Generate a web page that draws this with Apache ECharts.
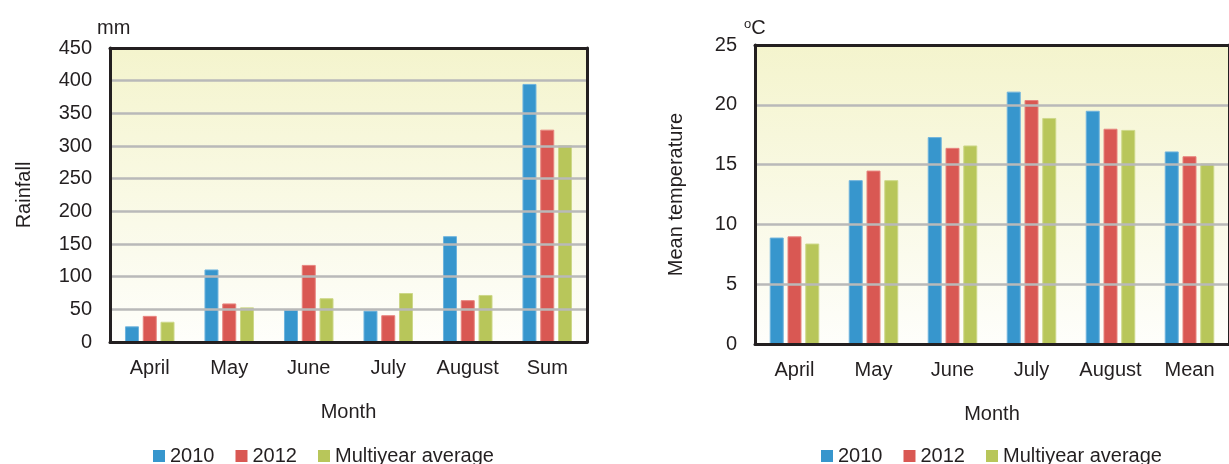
<!DOCTYPE html>
<html>
<head>
<meta charset="utf-8">
<script src="https://cdn.jsdelivr.net/npm/echarts@6/dist/echarts.min.js"></script>
<style>
  html, body { margin: 0; padding: 0; background: #ffffff; }
  #chart { width: 1229px; height: 464px; }
</style>
</head>
<body>
<div id="chart"></div>
<script>
// Categories
const rainCategories = ['April', 'May', 'June', 'July', 'August', 'Sum'];
const tempCategories = ['April', 'May', 'June', 'July', 'August', 'Mean'];
const seriesNames = ['2010', '2012', 'Multiyear average'];

// Rainfall (mm)
const rain2010 = [24, 111, 49, 48, 162, 395];
const rain2012 = [40, 59, 118, 41, 64, 325];
const rainAvg  = [31, 53, 67, 75, 72, 301];

// Mean temperature (°C)
const temp2010 = [8.9, 13.7, 17.3, 21.1, 19.5, 16.1];
const temp2012 = [9.0, 14.5, 16.4, 20.4, 18.0, 15.7];
const tempAvg  = [8.4, 13.7, 16.6, 18.9, 17.9, 15.1];

const colors = ['#3796cd', '#d95853', '#b8c65a'];
const edgeColors = ['#6fb3dd', '#e7847f', '#cdd889'];
const textColor = '#231f20';
const fontFamily = '"Liberation Sans", Arial, sans-serif';
const frameLine = { show: true, onZero: false, lineStyle: { color: textColor, width: 3 } };

const plotFill = {
  type: 'linear', x: 0, y: 0, x2: 0, y2: 1,
  colorStops: [
    { offset: 0, color: '#f4f4cd' },
    { offset: 1, color: '#fefefb' }
  ]
};

function gridOpts(left, top, width, height) {
  return {
    left: left, top: top, width: width, height: height,
    show: true,
    backgroundColor: plotFill,
    borderWidth: 0,
    containLabel: false
  };
}

function xAxisOpts(gridIndex, cats) {
  return {
    type: 'category',
    gridIndex: gridIndex,
    data: cats,
    z: 6,
    axisLine: frameLine,
    axisTick: { show: false },
    axisLabel: { interval: 0, color: textColor, fontSize: 20, fontFamily: fontFamily, margin: 16 },
    name: 'Month',
    nameLocation: 'middle',
    nameGap: 60,
    nameTextStyle: { color: textColor, fontSize: 20, fontFamily: fontFamily }
  };
}

// Frame edge along the top of a plot
function topFrame(gridIndex, cats) {
  return {
    type: 'category', gridIndex: gridIndex, data: cats, position: 'top', z: 6,
    axisLine: frameLine, axisTick: { show: false }, axisLabel: { show: false },
    splitLine: { show: false }
  };
}

function yAxisOpts(gridIndex, max, interval, name, gap) {
  return {
    type: 'value',
    gridIndex: gridIndex,
    min: 0,
    max: max,
    interval: interval,
    z: 6,
    axisLine: frameLine,
    axisTick: { show: false },
    axisLabel: { color: textColor, fontSize: 20, fontFamily: fontFamily, margin: 18 },
    splitLine: { showMinLine: false, showMaxLine: false, lineStyle: { color: '#b9b9b9', width: 2.5 } },
    name: name,
    nameLocation: 'middle',
    nameGap: gap,
    nameRotate: 90,
    nameTextStyle: { color: textColor, fontSize: 20, fontFamily: fontFamily }
  };
}

// Frame edge along the right side of a plot
function rightFrame(gridIndex, max, interval) {
  return {
    type: 'value', gridIndex: gridIndex, min: 0, max: max, interval: interval,
    position: 'right', z: 6,
    axisLine: frameLine, axisTick: { show: false }, axisLabel: { show: false },
    splitLine: { show: false }
  };
}

function barSeries(name, idx, axisIndex, data) {
  return {
    type: 'bar',
    name: name,
    xAxisIndex: axisIndex,
    yAxisIndex: axisIndex,
    data: data,
    barWidth: 14,
    barGap: '27%',
    itemStyle: { color: colors[idx], borderColor: edgeColors[idx], borderWidth: 1 },
    emphasis: { disabled: true },
    animation: false
  };
}

function legendOpts(left) {
  return {
    left: left,
    top: 446,
    padding: 0,
    itemWidth: 12,
    itemHeight: 12,
    itemGap: 21,
    icon: 'rect',
    itemStyle: { borderWidth: 0 },
    data: seriesNames,
    textStyle: { color: textColor, fontSize: 20, fontFamily: fontFamily, padding: [0, 0, 0, 0] }
  };
}

const chart = echarts.init(document.getElementById('chart'), null, { renderer: 'canvas' });

chart.setOption({
  backgroundColor: '#ffffff',
  animation: false,
  color: colors,
  title: [
    {
      text: 'mm', left: 92, top: 13,
      textStyle: { color: textColor, fontSize: 20, fontWeight: 'normal', fontFamily: fontFamily }
    },
    {
      text: '{sup|o}C', left: 739, top: 13,
      textStyle: {
        color: textColor, fontSize: 20, fontWeight: 'normal', fontFamily: fontFamily,
        rich: {
          sup: { fontSize: 13, verticalAlign: 'top', color: textColor, fontFamily: fontFamily, padding: [0, 0, 8, 0] }
        }
      }
    }
  ],
  legend: [legendOpts(153), legendOpts(821)],
  grid: [gridOpts(110, 48, 477, 294), gridOpts(755, 45, 482, 299)],
  xAxis: [
    xAxisOpts(0, rainCategories), xAxisOpts(1, tempCategories),
    topFrame(0, rainCategories), topFrame(1, tempCategories)
  ],
  yAxis: [
    yAxisOpts(0, 450, 50, 'Rainfall', 76), yAxisOpts(1, 25, 5, 'Mean temperature', 69),
    rightFrame(0, 450, 50), rightFrame(1, 25, 5)
  ],
  series: [
    barSeries(seriesNames[0], 0, 0, rain2010),
    barSeries(seriesNames[1], 1, 0, rain2012),
    barSeries(seriesNames[2], 2, 0, rainAvg),
    barSeries(seriesNames[0], 0, 1, temp2010),
    barSeries(seriesNames[1], 1, 1, temp2012),
    barSeries(seriesNames[2], 2, 1, tempAvg)
  ]
});
</script>
</body>
</html>
